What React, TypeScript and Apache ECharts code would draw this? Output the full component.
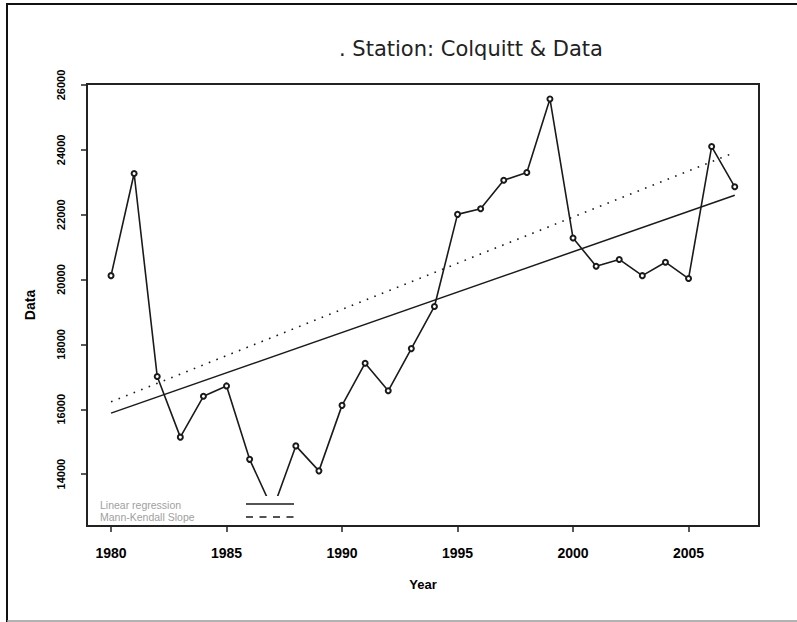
import React, { useEffect, useRef } from "react";
import * as echarts from "echarts";

const years = [1980, 1981, 1982, 1983, 1984, 1985, 1986, 1987, 1988, 1989, 1990, 1991, 1992, 1993, 1994, 1995, 1996, 1997, 1998, 1999, 2000, 2001, 2002, 2003, 2004, 2005, 2006, 2007];
const dataValues = [20120, 23270, 17010, 15140, 16400, 16720, 14455, 12900, 14870, 14100, 16120, 17420, 16570, 17870, 19170, 22010, 22185, 23060, 23300, 25570, 21280, 20410, 20620, 20120, 20535, 20030, 24100, 22860];
const regressionYears = [1980, 2007];
const linearRegression = [15880, 22600];
const mannKendall = [16230, 23920];
const yTicks = [14000, 16000, 18000, 20000, 22000, 24000, 26000];
const xTicks = [1980, 1985, 1990, 1995, 2000, 2005];
const titleText = ". Station: Colquitt & Data";
const legendLabels = ["Linear regression", "Mann-Kendall Slope"];

export default function App() {
  const ref = useRef<HTMLDivElement>(null);
  useEffect(() => {
    if (!ref.current) return;
    const chart = echarts.init(ref.current, null, { renderer: "svg" });
    const font = "Arial, 'Liberation Sans', sans-serif";
    chart.setOption({
      animation: false,
      backgroundColor: "#ffffff",
      title: {
        text: titleText,
        left: 334,
        top: 33,
        textStyle: { fontFamily: "'DejaVu Sans', sans-serif", fontSize: 21, fontWeight: "normal", color: "#222" },
      },
      grid: { left: 87, top: 84, right: 38, bottom: 96, show: true, borderColor: "#222", borderWidth: 2, backgroundColor: "transparent" },
      xAxis: {
        type: "value",
        min: 1978.96,
        max: 2008.05,
        name: "Year",
        nameLocation: "middle",
        nameGap: 52,
        nameTextStyle: { fontFamily: font, fontSize: 13, fontWeight: "bold", color: "#000", verticalAlign: "top" },
        axisLine: { show: true, lineStyle: { color: "#222", width: 2 } },
        axisTick: { show: true, length: 6, lineStyle: { color: "#222", width: 1.5 }, customValues: xTicks },
        axisLabel: { customValues: xTicks, formatter: (v: number) => String(v), margin: 20, fontFamily: font, fontSize: 14, fontWeight: "bold", color: "#000" },
        splitLine: { show: false },
      },
      yAxis: {
        type: "value",
        min: 12400,
        max: 26030,
        name: "Data",
        nameLocation: "middle",
        nameRotate: 90,
        nameGap: 50,
        nameTextStyle: { fontFamily: font, fontSize: 14, fontWeight: "bold", color: "#000" },
        axisLine: { show: true, lineStyle: { color: "#222", width: 2 } },
        axisTick: { show: true, length: 6, lineStyle: { color: "#222", width: 1.5 }, customValues: yTicks },
        axisLabel: { customValues: yTicks, formatter: (v: number) => String(v), rotate: 90, margin: 21, fontFamily: font, fontSize: 11, fontWeight: "bold", color: "#000" },
        splitLine: { show: false },
      },
      series: [
        {
          type: "line",
          name: "Data",
          data: years.map((y, i) => [y, dataValues[i]]),
          symbol: "emptyCircle",
          symbolSize: 5,
          lineStyle: { color: "#1a1a1a", width: 1.6 },
          itemStyle: { color: "#1a1a1a", borderColor: "#1a1a1a", borderWidth: 1 },
          z: 3,
        },
        {
          type: "line",
          name: legendLabels[0],
          data: regressionYears.map((y, i) => [y, linearRegression[i]]),
          symbol: "none",
          lineStyle: { color: "#1a1a1a", width: 1.5 },
          z: 2,
        },
        {
          type: "line",
          name: legendLabels[1],
          data: regressionYears.map((y, i) => [y, mannKendall[i]]),
          symbol: "none",
          lineStyle: { color: "#1a1a1a", width: 1.6, type: [1.6, 6.5] },
          z: 2,
        },
      ],
      graphic: [
        { type: "rect", z: 100, shape: { x: 89, y: 496, width: 215, height: 29 }, style: { fill: "#ffffff" } },
        { type: "text", z: 101, x: 100, y: 505, style: { text: legendLabels[0], fill: "#a0a0a0", fontFamily: font, fontSize: 10.5, verticalAlign: "middle" } },
        { type: "text", z: 101, x: 100, y: 517, style: { text: legendLabels[1], fill: "#a0a0a0", fontFamily: font, fontSize: 10.5, verticalAlign: "middle" } },
        { type: "line", z: 101, shape: { x1: 246, y1: 504, x2: 294, y2: 504 }, style: { stroke: "#1a1a1a", lineWidth: 1.5 } },
        { type: "line", z: 101, shape: { x1: 246, y1: 517, x2: 294, y2: 517 }, style: { stroke: "#1a1a1a", lineWidth: 1.5, lineDash: [7, 6.5] } },
        { type: "line", z: 101, shape: { x1: 6, y1: 4, x2: 797, y2: 4 }, style: { stroke: "#111", lineWidth: 2 } },
        { type: "line", z: 101, shape: { x1: 7, y1: 4, x2: 7, y2: 622 }, style: { stroke: "#111", lineWidth: 2 } },
        { type: "line", z: 101, shape: { x1: 7, y1: 621, x2: 797, y2: 621 }, style: { stroke: "#999", lineWidth: 1.5 } },
      ],
    });
    return () => chart.dispose();
  }, []);
  return <div ref={ref} style={{ position: "fixed", left: 0, top: 0, width: 797, height: 622 }} />;
}
